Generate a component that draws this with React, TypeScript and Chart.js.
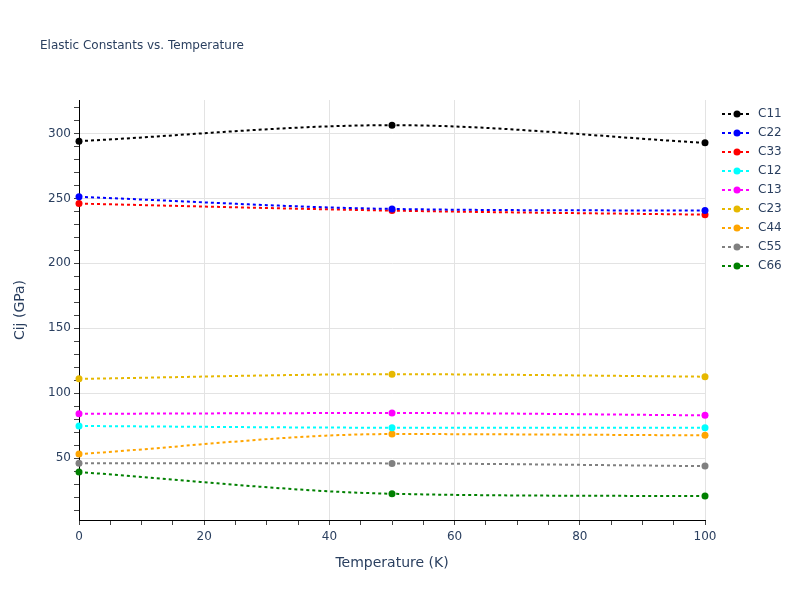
import React, { useEffect, useRef } from "react";
import { Chart, registerables } from "chart.js";

Chart.register(...registerables);

const temperatures = [0, 50, 100];
const seriesNames = ["C11", "C22", "C33", "C12", "C13", "C23", "C44", "C55", "C66"];
const c11 = [294.1, 306.4, 292.8];
const c22 = [251.2, 241.9, 240.6];
const c33 = [246.0, 240.6, 237.5];
const c12 = [74.7, 73.4, 73.4];
const c13 = [84.1, 84.7, 82.9];
const c23 = [111.0, 114.6, 112.7];
const c44 = [53.1, 68.5, 67.5];
const c55 = [46.1, 45.9, 43.8];
const c66 = [39.2, 22.5, 20.7];
const seriesColors = ["black", "blue", "red", "cyan", "magenta", "#e6b800", "orange", "gray", "green"];

const chartTitle = "Elastic Constants vs. Temperature";
const xTitle = "Temperature (K)";
const yTitle = "Cij (GPa)";

const FONT = "'DejaVu Sans', Verdana, sans-serif";
const TEXT = "#2a3f5f";

const overlayPlugin = {
  id: "overlay",
  afterDraw(chart: any) {
    const ctx = chart.ctx;
    const area = chart.chartArea;
    ctx.save();
    ctx.fillStyle = TEXT;
    ctx.font = `12px ${FONT}`;
    ctx.textBaseline = "middle";
    ctx.textAlign = "left";
    ctx.fillText(chartTitle, 40, 46);
    ctx.font = `14px ${FONT}`;
    ctx.textAlign = "center";
    ctx.fillText(xTitle, (area.left + area.right) / 2, 563);
    ctx.translate(20, (area.top + area.bottom) / 2);
    ctx.rotate(-Math.PI / 2);
    ctx.fillText(yTitle, 0, 0);
    ctx.restore();

    // legend
    ctx.save();
    chart.data.datasets.forEach((ds: any, i: number) => {
      const y = 114 + i * 19;
      ctx.strokeStyle = ds.borderColor;
      ctx.lineWidth = 2;
      ctx.setLineDash([3, 3]);
      ctx.beginPath();
      ctx.moveTo(722, y);
      ctx.lineTo(752, y);
      ctx.stroke();
      ctx.setLineDash([]);
      ctx.fillStyle = ds.borderColor;
      ctx.beginPath();
      ctx.arc(737, y, 3.5, 0, Math.PI * 2);
      ctx.fill();
      ctx.fillStyle = TEXT;
      ctx.font = `12px ${FONT}`;
      ctx.textAlign = "left";
      ctx.textBaseline = "middle";
      ctx.fillText(ds.label, 758, y);
    });
    ctx.restore();
  },
};

export default function App() {
  const ref = useRef<HTMLCanvasElement | null>(null);
  useEffect(() => {
    if (!ref.current) return;
    const all = [c11, c22, c33, c12, c13, c23, c44, c55, c66];
    const chart = new Chart(ref.current, {
      type: "line",
      data: {
        datasets: all.map((vals, i) => ({
          label: seriesNames[i],
          data: temperatures.map((t, j) => ({ x: t, y: vals[j] })),
          borderColor: seriesColors[i],
          backgroundColor: seriesColors[i],
          borderWidth: 2,
          borderDash: [3, 3],
          pointRadius: 3.5,
          pointHoverRadius: 3.5,
          pointBorderWidth: 0,
          tension: 0.4,
          cubicInterpolationMode: "monotone" as const,
          clip: false as any,
        })),
      },
      options: {
        animation: false,
        responsive: false,
        maintainAspectRatio: false,
        layout: { padding: { left: 0, right: 95, top: 100, bottom: 0 } },
        plugins: {
          legend: { display: false },
          tooltip: { enabled: false },
          title: { display: false },
        },
        scales: {
          x: {
            type: "linear",
            min: 0,
            max: 100,
            afterFit: (s: any) => { s.height = 80; },
            ticks: {
              stepSize: 5,
              autoSkip: false,
              maxRotation: 0,
              padding: 5,
              color: TEXT,
              font: { family: FONT, size: 12 },
              callback: (v: any) => (Number(v) % 20 === 0 ? String(v) : ""),
            },
            grid: {
              color: (c: any) => (c.tick && c.tick.value % 20 === 0 && c.tick.value !== 0 ? "#e3e3e3" : "rgba(0,0,0,0)"),
              lineWidth: 1,
              tickColor: "#444",
              tickLength: 5,
              drawTicks: true,
            },
            border: { display: true, color: "#000", width: 1 },
          },
          y: {
            type: "linear",
            min: 2.3,
            max: 325.8,
            afterFit: (s: any) => { s.width = 79; },
            ticks: {
              stepSize: 10,
              includeBounds: false,
              autoSkip: false,
              padding: 3,
              color: TEXT,
              font: { family: FONT, size: 12 },
              callback: (v: any) => (Number(v) % 50 === 0 ? String(v) : ""),
            },
            grid: {
              color: (c: any) => (c.tick && c.tick.value % 50 === 0 ? "#e3e3e3" : "rgba(0,0,0,0)"),
              lineWidth: 1,
              tickColor: "#444",
              tickLength: 5,
              drawTicks: true,
            },
            border: { display: true, color: "#000", width: 1 },
          },
        },
      },
      plugins: [overlayPlugin],
    });
    return () => chart.destroy();
  }, []);
  return (
    <div style={{ position: "absolute", left: 0, top: 0, width: 800, height: 600, background: "#fff" }}>
      <canvas ref={ref} width={800} height={600} style={{ width: 800, height: 600 }} />
    </div>
  );
}
